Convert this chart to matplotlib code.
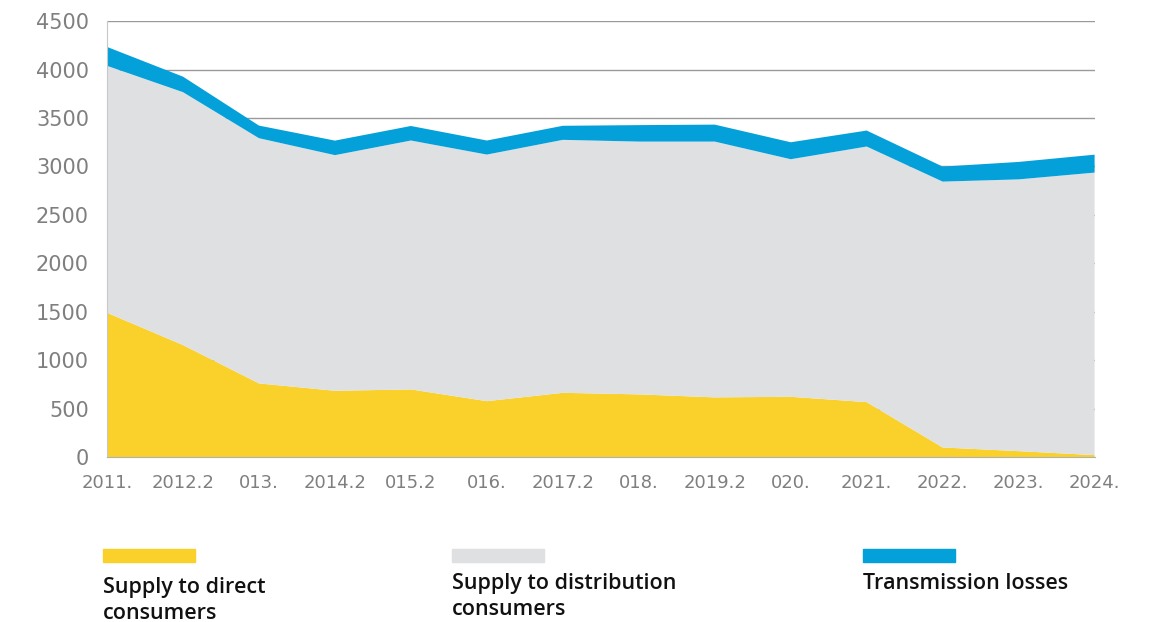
import numpy as np
import matplotlib.pyplot as plt
from matplotlib.patches import Rectangle


# data
# --------------------------------------------------------
tick_labels = ["2011.", "2012.2", "013.", "2014.2", "015.2", "016.", "2017.2",
               "018.", "2019.2", "020.", "2021.", "2022.", "2023.", "2024."]

direct_consumers = [1490, 1157, 761, 685, 699, 578, 664,
                    648, 617, 623, 568, 100, 62, 21]
distribution_consumers = [2549, 2610, 2531, 2432, 2569, 2545, 2611,
                          2609, 2640, 2452, 2638, 2744, 2805, 2916]
transmission_losses = [195, 160, 130, 150, 150, 145, 145,
                       170, 175, 175, 165, 155, 180, 185]

series_names = ["Supply to direct\nconsumers",
                "Supply to distribution\nconsumers",
                "Transmission losses"]
colors = ["#FAD02A", "#DFE0E2", "#04A0DA"]


# plot
# --------------------------------------------------------
fig = plt.figure(figsize=(11.51, 6.22), dpi=100)
ax = fig.add_axes([0.093, 0.265, 0.858, 0.701])

x = np.arange(len(tick_labels))
ax.stackplot(x, direct_consumers, distribution_consumers, transmission_losses,
             colors=colors, linewidth=0, zorder=2)

ax.set_xlim(0, len(tick_labels) - 1)
ax.set_ylim(0, 4500)
ax.set_yticks(np.arange(0, 4501, 500))
ax.set_xticks(x)
ax.set_xticklabels(tick_labels)

ax.grid(axis="y", color="#9a9a9a", linewidth=1, zorder=0)
ax.set_axisbelow(True)
for side in ["top", "right"]:
    ax.spines[side].set_visible(False)
ax.spines["left"].set_color("#c8c8c8")
ax.spines["bottom"].set_color("#b0b0b0")

ax.tick_params(axis="both", length=0, colors="#7f7f7f")
ax.tick_params(axis="y", pad=13, labelsize=15)
ax.tick_params(axis="x", pad=12, labelsize=13)
for lbl in ax.get_yticklabels():
    lbl.set_fontfamily(["DejaVu Sans"])
for lbl in ax.get_xticklabels():
    lbl.set_fontfamily(["DejaVu Sans"])

# legend drawn by hand: colour bar above the label
legend_x = [103, 452, 863]
legend_text_y = [577, 573, 573]
for name, color, px, ty in zip(series_names, colors, legend_x, legend_text_y):
    fig.patches.append(Rectangle((px / 1151, 1 - 562 / 622), 92 / 1151, 13 / 622,
                                 transform=fig.transFigure, color=color))
    fig.text(px / 1151, 1 - ty / 622, name, ha="left", va="top",
             fontsize=15.5, color="#111111", linespacing=1.3,
             family=["Open Sans", "DejaVu Sans"], fontweight="semibold")

plt.savefig("out.png", dpi=100)
plt.close()
